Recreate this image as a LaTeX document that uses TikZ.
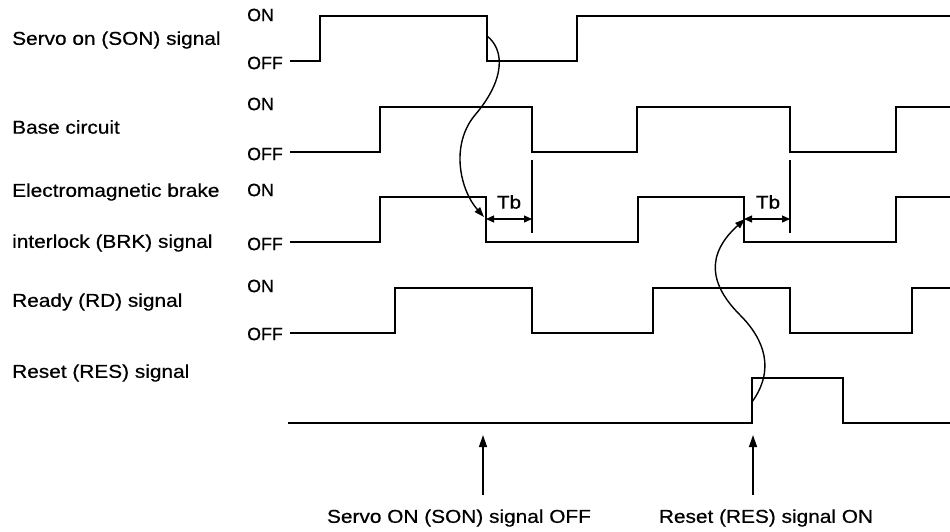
\documentclass[tikz,border=0pt]{standalone}
\usepackage{fontspec}
\setmainfont{Liberation Sans}[FakeStretch=1.12,FakeBold=0.6]
\newfontfamily\levelfont{Liberation Sans}[FakeStretch=1.0,FakeBold=0.6]
\usetikzlibrary{arrows.meta}
\tikzset{
  sig/.style={line width=1.8pt, line join=miter},
  lbl/.style={anchor=west, inner sep=0pt, font=\fontsize{18.6}{22}\selectfont},
  lvl/.style={anchor=west, inner sep=0pt, font=\levelfont\fontsize{17.8}{20}\selectfont},
  btm/.style={inner sep=0pt, font=\fontsize{18.6}{22}\selectfont},
  tbl/.style={inner sep=0pt, font=\fontsize{18.5}{20}\selectfont},
  mark line/.style={line width=1.3pt},
  tbarrow/.style={line width=1.2pt, {Triangle[length=8pt,width=7pt]}-{Triangle[length=8pt,width=7pt]}},
  curvearrow/.style={line width=1.4pt, -{Triangle[length=10pt,width=7pt]}},
  uparrow/.style={line width=1.4pt, -{Triangle[length=12pt,width=8pt]}}
}
\begin{document}
\begin{tikzpicture}[x=1pt,y=-1pt]
\useasboundingbox (0,0) rectangle (950,531);

% left labels
\node[lbl] (lson) at (12,40) {Servo on (SON) signal};
\node[lbl] (lbase) at (12,127) {Base circuit};
\node[lbl] (lbrk1) at (12,192) {Electromagnetic brake};
\node[lbl] (lbrk2) at (12,243) {interlock (BRK) signal};
\node[lbl] (lrd) at (12,302) {Ready (RD) signal};
\node[lbl] (lres) at (12,373) {Reset (RES) signal};

% ON / OFF labels
\node[lvl] (on1) at (247,15) {ON};
\node[lvl] (off1) at (247,63) {OFF};
\node[lvl] (on2) at (247,104) {ON};
\node[lvl] (off2) at (247,154) {OFF};
\node[lvl] (on3) at (247,190) {ON};
\node[lvl] (off3) at (247,244) {OFF};
\node[lvl] (on4) at (247,286) {ON};
\node[lvl] (off4) at (247,334) {OFF};

% waveforms
\draw[sig] (290,61) -- (320,61) -- (320,16) -- (487,16) -- (487,61) -- (577,61) -- (577,16) -- (950,16);
\draw[sig] (290,152) -- (380,152) -- (380,107) -- (532,107) -- (532,152) -- (637,152) -- (637,107) -- (790,107) -- (790,152) -- (896,152) -- (896,107) -- (950,107);
\draw[sig] (290,242) -- (380,242) -- (380,197) -- (486,197) -- (486,242) -- (638,242) -- (638,197) -- (744,197) -- (744,242) -- (896,242) -- (896,197) -- (950,197);
\draw[sig] (290,333) -- (395,333) -- (395,288) -- (532,288) -- (532,333) -- (653,333) -- (653,288) -- (790,288) -- (790,333) -- (912,333) -- (912,288) -- (950,288);
\draw[sig] (288,423) -- (752,423) -- (752,378) -- (843,378) -- (843,423) -- (950,423);

% Tb markers
\coordinate (m1t) at (532,160);
\coordinate (m1b) at (532,233);
\coordinate (m2t) at (790,160);
\coordinate (m2b) at (790,233);
\draw[mark line] (m1t) -- (m1b);
\draw[mark line] (m2t) -- (m2b);
\coordinate (tb1a) at (486,219);
\coordinate (tb1b) at (532,219);
\coordinate (tb2a) at (744,219);
\coordinate (tb2b) at (790,219);
\draw[tbarrow] (tb1a) -- (tb1b);
\draw[tbarrow] (tb2a) -- (tb2b);
\node[tbl] (tb1) at (509,202) {Tb};
\node[tbl] (tb2) at (768,202) {Tb};

% cause-effect curves
\coordinate (c1s) at (487,36);
\coordinate (c1m) at (475,115);
\coordinate (c1e) at (484,217);
\draw[curvearrow] (c1s) .. controls (505,50) and (505,80) .. (c1m)
                        .. controls (450,145) and (460,190) .. (c1e);
\coordinate (c2s) at (752,402);
\coordinate (c2m) at (740,315);
\coordinate (c2e) at (745,219);
\draw[curvearrow] (c2s) .. controls (775,370) and (765,340) .. (c2m)
                        .. controls (710,285) and (705,255) .. (c2e);

% bottom annotations
\node[btm] (bson) at (459,518) {Servo ON (SON) signal OFF};
\node[btm] (bres) at (766,518) {Reset (RES) signal ON};
\coordinate (a1s) at (483,495);
\coordinate (a1e) at (483,435);
\coordinate (a2s) at (753,495);
\coordinate (a2e) at (753,435);
\draw[uparrow] (a1s) -- (a1e);
\draw[uparrow] (a2s) -- (a2e);
\end{tikzpicture}
\end{document}
